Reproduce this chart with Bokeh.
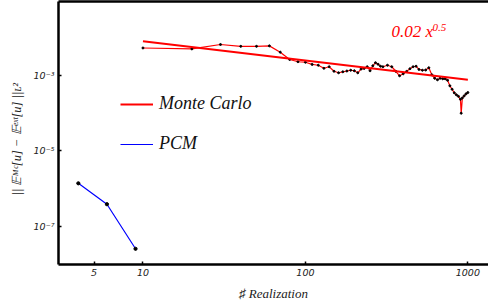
from bokeh.plotting import figure
from bokeh.models import Range1d, FixedTicker, LogAxis, Legend, LegendItem, Label
from bokeh.embed import file_html
from bokeh.resources import INLINE

# ---- data ----
mc_n = [10, 20, 30, 40, 50, 60, 70, 80, 90, 100,
        110, 120, 130, 140, 150, 160, 170, 180, 190, 200,
        210, 220, 230, 240, 250, 260, 270, 280, 290, 300,
        320, 340, 360, 380, 400, 420, 440, 460, 480, 500,
        525, 550, 575, 600, 625, 650, 675, 700, 725, 750,
        775, 800, 825, 850, 875, 900, 910, 925, 950, 975, 1000]
mc_err = [5.19e-3, 4.91e-3, 6.42e-3, 5.73e-3, 5.73e-3, 5.90e-3, 4.02e-3, 2.58e-3, 2.25e-3, 2.18e-3,
          1.91e-3, 1.82e-3, 1.51e-3, 1.66e-3, 1.26e-3, 1.15e-3, 1.22e-3, 1.28e-3, 1.34e-3, 1.30e-3,
          1.15e-3, 1.44e-3, 1.50e-3, 1.66e-3, 1.30e-3, 1.76e-3, 2.12e-3, 1.93e-3, 1.71e-3, 1.66e-3,
          1.82e-3, 1.66e-3, 1.26e-3, 9.58e-4, 1.08e-3, 1.25e-3, 1.47e-3, 1.66e-3, 1.71e-3, 1.41e-3,
          1.34e-3, 1.36e-3, 1.56e-3, 1.02e-3, 8.23e-4, 7.51e-4, 8.23e-4, 7.98e-4, 7.98e-4, 7.28e-4,
          5.21e-4, 4.21e-4, 3.40e-4, 3.01e-4, 2.74e-4, 2.29e-4, 9.85e-5, 2.50e-4, 2.83e-4, 3.20e-4, 3.46e-4]
fit_n = [10, 1000]
fit_err = [7.76e-3, 7.51e-4]
pcm_n = [4, 6, 9]
pcm_err = [1.39e-6, 3.9e-7, 2.6e-8]
x_ticks = [5, 10, 100, 1000]
x_tick_labels = ["5", "10", "100", "1000"]
y_ticks = [1e-7, 1e-5, 1e-3]
y_tick_labels = ["10\u207b\u2077", "10\u207b\u2075", "10\u207b\u00b3"]
legend_labels = ["Monte Carlo", "PCM"]
fit_text = "0.02 x"
fit_exp_text = "0.5"

p = figure(width=488, height=305, output_backend="svg", toolbar_location=None,
           x_axis_type="log", y_axis_type="log",
           x_range=Range1d(3.02, 1340), y_range=Range1d(10 ** -8.0, 10 ** -1.058),
           min_border_left=58, min_border_right=0, min_border_top=1, min_border_bottom=41)
p.outline_line_color = None
p.grid.visible = False
p.background_fill_color = "white"
p.border_fill_color = "white"

for ax in (p.xaxis[0], p.yaxis[0]):
    ax.axis_line_width = 2.5
    ax.axis_line_color = "black"
    ax.major_tick_in = 3
    ax.major_tick_out = 0
    ax.major_tick_line_width = 1.5
    ax.minor_tick_line_color = None
    ax.major_label_text_font = "DejaVu Sans"
    ax.major_label_text_font_style = "italic"
    ax.major_label_text_font_size = "9.5px"
    ax.major_label_text_color = "#222222"
    ax.axis_label_text_font = "Liberation Serif"
    ax.axis_label_text_font_style = "italic"
    ax.axis_label_text_color = "#222222"

p.xaxis.ticker = FixedTicker(ticks=x_ticks)
p.xaxis.major_label_overrides = {t: s for t, s in zip(x_ticks, x_tick_labels)}
p.xaxis.major_label_standoff = 4
p.xaxis.axis_label = "\u266f Realization"
p.xaxis.axis_label_text_font_size = "13px"
p.xaxis.axis_label_standoff = 7

p.yaxis.ticker = FixedTicker(ticks=y_ticks)
p.yaxis.major_label_overrides = {t: s for t, s in zip(y_ticks, y_tick_labels)}
p.yaxis.major_label_standoff = 4
p.yaxis.major_label_orientation = "horizontal"
p.yaxis.axis_label = "||  \U0001D53C\u1D39\u1D9C[u]  \u2212  \U0001D53C\u1D49\u02E3\u1D57[u]  ||\u029F\u00b2"
p.yaxis.axis_label_text_font_size = "12.5px"
p.yaxis.axis_label_standoff = 7

top = LogAxis(ticker=FixedTicker(ticks=[]), axis_line_width=2.5, axis_line_color="black",
              major_tick_in=0, major_tick_out=0, minor_tick_line_color=None,
              major_label_standoff=0, major_label_text_font_size="0px")
p.add_layout(top, "above")

r_mc = p.line(mc_n, mc_err, line_color="#ff0000", line_width=1.2)
p.scatter(mc_n, mc_err, size=2, color="black")
r_fit = p.line(fit_n, fit_err, line_color="#ff0000", line_width=2)
r_pcm = p.line(pcm_n, pcm_err, line_color="#0000ff", line_width=1.2)
p.scatter(pcm_n, pcm_err, size=3.2, color="black")

legend = Legend(items=[LegendItem(label=legend_labels[0], renderers=[r_fit]),
                       LegendItem(label=legend_labels[1], renderers=[r_pcm])],
                location=(62, 110), padding=0, margin=0, spacing=19,
                glyph_width=33, glyph_height=20, label_height=20, label_standoff=6,
                label_text_font="Liberation Serif", label_text_font_style="italic",
                label_text_font_size="18px", label_text_color="#111111",
                background_fill_alpha=0, border_line_color=None)
p.add_layout(legend, "center")

p.add_layout(Label(x=333, y=224, x_units="screen", y_units="screen", text=fit_text,
                   text_font="Liberation Serif", text_font_style="italic",
                   text_font_size="17px", text_color="#ff0000"))
p.add_layout(Label(x=374, y=234, x_units="screen", y_units="screen", text=fit_exp_text,
                   text_font="Liberation Serif", text_font_style="italic",
                   text_font_size="11px", text_color="#ff0000"))

open("out.html", "w").write(file_html(p, INLINE))
